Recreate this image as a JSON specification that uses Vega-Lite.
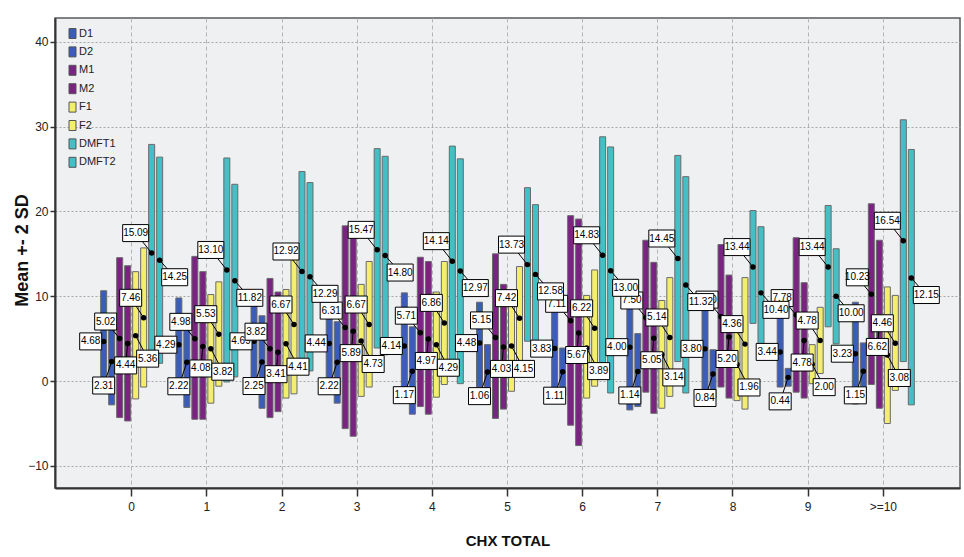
{
  "$schema": "https://vega.github.io/schema/vega-lite/v6.json",
  "width": 905,
  "height": 470,
  "autosize": {"type": "none"},
  "padding": {"left": 55, "top": 18, "right": 4, "bottom": 69},
  "background": "white",
  "config": {
    "view": {"fill": "#eef0f2", "stroke": "#5a5a5a", "strokeWidth": 1.5},
    "font": "Liberation Sans",
    "axis": {"labelFont": "Liberation Sans", "titleFont": "Liberation Sans", "labelColor": "#222", "titleColor": "#111"},
    "text": {"font": "Liberation Sans", "fontSize": 10, "align": "center", "baseline": "middle", "color": "black"},
    "point": {"opacity": 1}
  },
  "data": {
    "values": [
      {"cat": "0", "s": "D1", "mean": 4.68, "lo": -1.2, "hi": 10.65},
      {"cat": "0", "s": "D2", "mean": 2.31, "lo": -2.8, "hi": 7.4},
      {"cat": "0", "s": "M1", "mean": 5.02, "lo": -4.3, "hi": 14.55},
      {"cat": "0", "s": "M2", "mean": 4.44, "lo": -4.7, "hi": 13.6},
      {"cat": "0", "s": "F1", "mean": 5.36, "lo": -2.1, "hi": 12.9},
      {"cat": "0", "s": "F2", "mean": 7.46, "lo": -0.7, "hi": 15.7},
      {"cat": "0", "s": "DMFT1", "mean": 15.09, "lo": 2.5, "hi": 27.9},
      {"cat": "0", "s": "DMFT2", "mean": 14.25, "lo": 2.1, "hi": 26.4},
      {"cat": "1", "s": "D1", "mean": 4.29, "lo": -1.2, "hi": 9.8},
      {"cat": "1", "s": "D2", "mean": 2.22, "lo": -3.1, "hi": 7.5},
      {"cat": "1", "s": "M1", "mean": 4.98, "lo": -4.5, "hi": 14.7},
      {"cat": "1", "s": "M2", "mean": 4.08, "lo": -4.5, "hi": 12.9},
      {"cat": "1", "s": "F1", "mean": 3.82, "lo": -2.6, "hi": 10.2},
      {"cat": "1", "s": "F2", "mean": 5.53, "lo": -0.6, "hi": 11.7},
      {"cat": "1", "s": "DMFT1", "mean": 13.10, "lo": -0.1, "hi": 26.3},
      {"cat": "1", "s": "DMFT2", "mean": 11.82, "lo": 0.5, "hi": 23.2},
      {"cat": "2", "s": "D1", "mean": 4.69, "lo": -0.6, "hi": 10.0},
      {"cat": "2", "s": "D2", "mean": 2.25, "lo": -3.2, "hi": 7.7},
      {"cat": "2", "s": "M1", "mean": 3.82, "lo": -4.3, "hi": 12.1},
      {"cat": "2", "s": "M2", "mean": 3.41, "lo": -3.6, "hi": 10.5},
      {"cat": "2", "s": "F1", "mean": 4.41, "lo": -2.0, "hi": 10.8},
      {"cat": "2", "s": "F2", "mean": 6.67, "lo": -1.5, "hi": 14.8},
      {"cat": "2", "s": "DMFT1", "mean": 12.92, "lo": 1.3, "hi": 24.7},
      {"cat": "2", "s": "DMFT2", "mean": 12.29, "lo": 1.2, "hi": 23.4},
      {"cat": "3", "s": "D1", "mean": 4.44, "lo": 0.1, "hi": 8.8},
      {"cat": "3", "s": "D2", "mean": 2.22, "lo": -2.6, "hi": 7.0},
      {"cat": "3", "s": "M1", "mean": 6.31, "lo": -5.6, "hi": 18.3},
      {"cat": "3", "s": "M2", "mean": 5.89, "lo": -6.5, "hi": 18.3},
      {"cat": "3", "s": "F1", "mean": 4.73, "lo": -1.8, "hi": 11.4},
      {"cat": "3", "s": "F2", "mean": 6.67, "lo": -0.7, "hi": 14.1},
      {"cat": "3", "s": "DMFT1", "mean": 15.47, "lo": 3.9, "hi": 27.4},
      {"cat": "3", "s": "DMFT2", "mean": 14.80, "lo": 3.1, "hi": 26.5},
      {"cat": "4", "s": "D1", "mean": 4.14, "lo": -1.9, "hi": 10.4},
      {"cat": "4", "s": "D2", "mean": 1.17, "lo": -3.9, "hi": 6.4},
      {"cat": "4", "s": "M1", "mean": 5.71, "lo": -3.0, "hi": 14.6},
      {"cat": "4", "s": "M2", "mean": 4.97, "lo": -3.9, "hi": 14.1},
      {"cat": "4", "s": "F1", "mean": 4.29, "lo": -1.9, "hi": 10.5},
      {"cat": "4", "s": "F2", "mean": 6.86, "lo": -0.4, "hi": 14.1},
      {"cat": "4", "s": "DMFT1", "mean": 14.14, "lo": 0.6, "hi": 27.7},
      {"cat": "4", "s": "DMFT2", "mean": 12.97, "lo": -0.3, "hi": 26.2},
      {"cat": "5", "s": "D1", "mean": 4.48, "lo": -0.7, "hi": 9.3},
      {"cat": "5", "s": "D2", "mean": 1.06, "lo": -2.0, "hi": 4.3},
      {"cat": "5", "s": "M1", "mean": 5.15, "lo": -4.4, "hi": 15.0},
      {"cat": "5", "s": "M2", "mean": 4.03, "lo": -3.3, "hi": 11.4},
      {"cat": "5", "s": "F1", "mean": 4.15, "lo": -1.2, "hi": 9.5},
      {"cat": "5", "s": "F2", "mean": 7.42, "lo": 1.3, "hi": 13.5},
      {"cat": "5", "s": "DMFT1", "mean": 13.73, "lo": 4.7, "hi": 22.8},
      {"cat": "5", "s": "DMFT2", "mean": 12.58, "lo": 4.4, "hi": 20.8},
      {"cat": "6", "s": "D1", "mean": 3.83, "lo": -1.7, "hi": 9.6},
      {"cat": "6", "s": "D2", "mean": 1.11, "lo": -1.7, "hi": 3.9},
      {"cat": "6", "s": "M1", "mean": 7.11, "lo": -5.2, "hi": 19.5},
      {"cat": "6", "s": "M2", "mean": 5.67, "lo": -7.6, "hi": 19.1},
      {"cat": "6", "s": "F1", "mean": 3.89, "lo": -2.0, "hi": 10.1},
      {"cat": "6", "s": "F2", "mean": 6.22, "lo": -0.6, "hi": 13.1},
      {"cat": "6", "s": "DMFT1", "mean": 14.83, "lo": 0.7, "hi": 28.8},
      {"cat": "6", "s": "DMFT2", "mean": 13.00, "lo": -1.4, "hi": 27.6},
      {"cat": "7", "s": "D1", "mean": 4.00, "lo": -3.4, "hi": 11.4},
      {"cat": "7", "s": "D2", "mean": 1.14, "lo": -3.0, "hi": 5.6},
      {"cat": "7", "s": "M1", "mean": 7.50, "lo": -1.3, "hi": 16.6},
      {"cat": "7", "s": "M2", "mean": 5.05, "lo": -3.8, "hi": 14.0},
      {"cat": "7", "s": "F1", "mean": 3.14, "lo": -3.2, "hi": 9.5},
      {"cat": "7", "s": "F2", "mean": 5.14, "lo": -1.8, "hi": 12.2},
      {"cat": "7", "s": "DMFT1", "mean": 14.45, "lo": 2.3, "hi": 26.6},
      {"cat": "7", "s": "DMFT2", "mean": 11.32, "lo": -1.4, "hi": 24.1},
      {"cat": "8", "s": "D1", "mean": 3.80, "lo": -1.7, "hi": 9.3},
      {"cat": "8", "s": "D2", "mean": 0.84, "lo": -2.0, "hi": 3.7},
      {"cat": "8", "s": "M1", "mean": 7.60, "lo": -0.7, "hi": 16.1},
      {"cat": "8", "s": "M2", "mean": 5.20, "lo": -2.0, "hi": 12.5},
      {"cat": "8", "s": "F1", "mean": 1.96, "lo": -2.3, "hi": 6.4},
      {"cat": "8", "s": "F2", "mean": 4.36, "lo": -3.3, "hi": 12.2},
      {"cat": "8", "s": "DMFT1", "mean": 13.44, "lo": 6.8, "hi": 20.1},
      {"cat": "8", "s": "DMFT2", "mean": 10.40, "lo": 2.6, "hi": 18.2},
      {"cat": "9", "s": "D1", "mean": 3.44, "lo": -0.7, "hi": 7.8},
      {"cat": "9", "s": "D2", "mean": 0.44, "lo": -0.6, "hi": 1.5},
      {"cat": "9", "s": "M1", "mean": 7.78, "lo": -1.3, "hi": 16.9},
      {"cat": "9", "s": "M2", "mean": 4.78, "lo": -2.0, "hi": 11.6},
      {"cat": "9", "s": "F1", "mean": 2.00, "lo": -0.3, "hi": 4.3},
      {"cat": "9", "s": "F2", "mean": 4.78, "lo": 0.9, "hi": 8.7},
      {"cat": "9", "s": "DMFT1", "mean": 13.44, "lo": 6.4, "hi": 20.7},
      {"cat": "9", "s": "DMFT2", "mean": 10.00, "lo": 4.4, "hi": 15.6},
      {"cat": ">=10", "s": "D1", "mean": 3.23, "lo": -2.7, "hi": 9.3},
      {"cat": ">=10", "s": "D2", "mean": 1.15, "lo": -1.4, "hi": 4.5},
      {"cat": ">=10", "s": "M1", "mean": 10.23, "lo": -0.4, "hi": 20.9},
      {"cat": ">=10", "s": "M2", "mean": 6.62, "lo": -3.2, "hi": 16.6},
      {"cat": ">=10", "s": "F1", "mean": 3.08, "lo": -5.0, "hi": 11.1},
      {"cat": ">=10", "s": "F2", "mean": 4.46, "lo": -1.1, "hi": 10.1},
      {"cat": ">=10", "s": "DMFT1", "mean": 16.54, "lo": 2.3, "hi": 30.8},
      {"cat": ">=10", "s": "DMFT2", "mean": 12.15, "lo": -2.8, "hi": 27.3}
    ]
  },
  "encoding": {
    "x": {
      "field": "cat", "type": "nominal", "title": "CHX TOTAL",
      "scale": {"domain": ["0", "1", "2", "3", "4", "5", "6", "7", "8", "9", ">=10"], "paddingOuter": 0.52, "paddingInner": 0},
      "axis": {
        "labelAngle": 0, "grid": true, "gridDash": [4, 3], "gridColor": "#b5b5b5", "gridWidth": 1,
        "bandPosition": 0.5, "tickSize": 8, "tickWidth": 1.5, "tickColor": "#333",
        "domainColor": "#333", "domainWidth": 2, "labelFontSize": 12, "labelPadding": 5,
        "titleFontSize": 15, "titleFontWeight": "bold", "titleY": 52, "titleBaseline": "middle"
      }
    },
    "xOffset": {
      "field": "s", "type": "nominal",
      "scale": {"domain": ["D1", "D2", "M1", "M2", "F1", "F2", "DMFT1", "DMFT2"], "paddingInner": 0.25, "paddingOuter": 0.825}
    },
    "y": {"field": "mean", "type": "quantitative", "title": "Mean +- 2 SD"}
  },
  "layer": [
    {
      "mark": {"type": "bar", "stroke": "#6a6a6a", "strokeWidth": 1, "opacity": 1},
      "encoding": {
        "y": {
          "field": "lo", "type": "quantitative", "title": "Mean +- 2 SD",
          "scale": {"domain": [-12.6, 42.8], "nice": false, "zero": false},
          "axis": {
            "values": [-10, 0, 10, 20, 30, 40], "grid": true, "gridDash": [2, 2], "gridColor": "#a8a8a8",
            "tickSize": 5, "tickWidth": 1.5, "tickColor": "#333", "domainColor": "#333", "domainWidth": 2,
            "labelFontSize": 12, "labelPadding": 2,
            "titleFontSize": 18, "titleFontWeight": "bold",
            "titleX": -33, "titleY": 232, "titleAngle": -90, "titleBaseline": "middle", "titleAlign": "center"
          }
        },
        "y2": {"field": "hi"},
        "color": {
          "field": "s", "type": "nominal",
          "scale": {
            "domain": ["D1", "D2", "M1", "M2", "F1", "F2", "DMFT1", "DMFT2"],
            "range": ["#3a5cba", "#3a5cba", "#7b2382", "#7b2382", "#f3ee6e", "#f3ee6e", "#43bfc6", "#43bfc6"]
          },
          "legend": {
            "orient": "none", "legendX": 12, "legendY": 10, "title": null, "padding": 0,
            "symbolType": "M-0.7,-1H0.7V1H-0.7Z", "symbolSize": 100,
            "symbolStrokeColor": "#555", "symbolStrokeWidth": 1, "symbolOpacity": 1,
            "labelFont": "Liberation Sans", "labelFontSize": 11, "labelColor": "#222",
            "rowPadding": 3.4, "labelOffset": 1
          }
        }
      }
    },
    {
      "mark": {"type": "point", "filled": true, "color": "black", "size": 30, "opacity": 1}
    },
    {
      "transform": [{"filter": "datum.s == 'D1'"}],
      "layer": [
        {"mark": {"type": "point", "shape": "M0,0L-2,0M-24,-8.5H-2V8.5H-24Z", "size": 4, "filled": true, "fill": "white", "stroke": "black", "strokeWidth": 1, "opacity": 1}},
        {"mark": {"type": "text", "dx": -13, "dy": 0}, "encoding": {"text": {"field": "mean", "type": "quantitative", "format": ".2f"}}}
      ]
    },
    {
      "transform": [{"filter": "datum.s == 'D2'"}],
      "layer": [
        {"mark": {"type": "point", "shape": "M0,0L-5.2,15.5M-19,15.5H3V32.5H-19Z", "size": 4, "filled": true, "fill": "white", "stroke": "black", "strokeWidth": 1, "opacity": 1}},
        {"mark": {"type": "text", "dx": -8, "dy": 24}, "encoding": {"text": {"field": "mean", "type": "quantitative", "format": ".2f"}}}
      ]
    },
    {
      "transform": [{"filter": "datum.s == 'M1'"}],
      "layer": [
        {"mark": {"type": "point", "shape": "M0,0L-7,-8.5M-25,-25.5H-3V-8.5H-25Z", "size": 4, "filled": true, "fill": "white", "stroke": "black", "strokeWidth": 1, "opacity": 1}},
        {"mark": {"type": "text", "dx": -14, "dy": -17}, "encoding": {"text": {"field": "mean", "type": "quantitative", "format": ".2f"}}}
      ]
    },
    {
      "transform": [{"filter": "datum.s == 'M2'"}],
      "layer": [
        {"mark": {"type": "point", "shape": "M0,0L-1.2,13.5M-13,13.5H9V30.5H-13Z", "size": 4, "filled": true, "fill": "white", "stroke": "black", "strokeWidth": 1, "opacity": 1}},
        {"mark": {"type": "text", "dx": -2, "dy": 22}, "encoding": {"text": {"field": "mean", "type": "quantitative", "format": ".2f"}}}
      ]
    },
    {
      "transform": [{"filter": "datum.s == 'F1'"}],
      "layer": [
        {"mark": {"type": "point", "shape": "M0,0L7.6,14.5M1,14.5H23V31.5H1Z", "size": 4, "filled": true, "fill": "white", "stroke": "black", "strokeWidth": 1, "opacity": 1}},
        {"mark": {"type": "text", "dx": 12, "dy": 23}, "encoding": {"text": {"field": "mean", "type": "quantitative", "format": ".2f"}}}
      ]
    },
    {
      "transform": [{"filter": "datum.s == 'F2'"}],
      "layer": [
        {"mark": {"type": "point", "shape": "M0,0L-7.5,-11.5M-24,-28.5H-2V-11.5H-24Z", "size": 4, "filled": true, "fill": "white", "stroke": "black", "strokeWidth": 1, "opacity": 1}},
        {"mark": {"type": "text", "dx": -13, "dy": -20}, "encoding": {"text": {"field": "mean", "type": "quantitative", "format": ".2f"}}}
      ]
    },
    {
      "transform": [{"filter": "datum.s == 'DMFT1'"}],
      "layer": [
        {"mark": {"type": "point", "shape": "M0,0L-9.2,-11.5M-29,-28.5H-3V-11.5H-29Z", "size": 4, "filled": true, "fill": "white", "stroke": "black", "strokeWidth": 1, "opacity": 1}},
        {"mark": {"type": "text", "dx": -16, "dy": -20}, "encoding": {"text": {"field": "mean", "type": "quantitative", "format": ".2f"}}}
      ]
    },
    {
      "transform": [{"filter": "datum.s == 'DMFT2'"}],
      "layer": [
        {"mark": {"type": "point", "shape": "M0,0L7.5,8.5M2,8.5H28V25.5H2Z", "size": 4, "filled": true, "fill": "white", "stroke": "black", "strokeWidth": 1, "opacity": 1}},
        {"mark": {"type": "text", "dx": 15, "dy": 17}, "encoding": {"text": {"field": "mean", "type": "quantitative", "format": ".2f"}}}
      ]
    }
  ]
}
